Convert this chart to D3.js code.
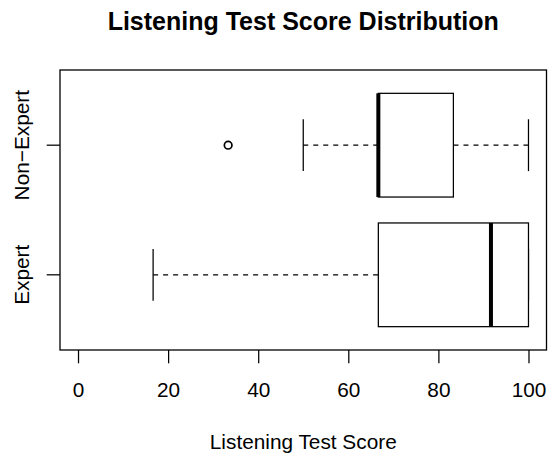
<!DOCTYPE html>
<html>
<head>
<meta charset="utf-8">
<script src="https://cdn.jsdelivr.net/npm/d3@7"></script>
<style>
  html, body { margin: 0; padding: 0; background: #fff; }
  svg { display: block; }
  text { font-family: "Liberation Sans", Arial, Helvetica, sans-serif; fill: #000; }
</style>
</head>
<body>
<svg id="chart" width="549" height="455"></svg>
<script>
// ---- data ----
const groups = ["Expert", "Non\u2212Expert"];
const whiskerLow = [16.67, 50];
const q1 = [66.67, 66.67];
const median = [91.67, 66.67];
const q3 = [100, 83.33];
const whiskerHigh = [100, 100];
const outliers = [[], [33.33]];
const xTicks = [0, 20, 40, 60, 80, 100];
const title = "Listening Test Score Distribution";
const xLabel = "Listening Test Score";

// ---- layout ----
const svg = d3.select("#chart");
const plotL = 60, plotR = 546.5, plotT = 70, plotB = 350;
const fs = 20.8;

const x = d3.scaleLinear().domain([-4, 104]).range([plotL, plotR]);
const y = d3.scaleLinear().domain([0.42, 2.58]).range([plotB, plotT]);
const boxHalf = 0.4, stapleHalf = 0.2;
const lw = 1.25;

// frame
svg.append("rect")
  .attr("x", plotL).attr("y", plotT)
  .attr("width", plotR - plotL).attr("height", plotB - plotT)
  .attr("fill", "none").attr("stroke", "#000").attr("stroke-width", 1.3);

// x axis
const xAxis = d3.axisBottom(x).tickValues(xTicks).tickSize(13.3).tickFormat(d3.format("d"));
const gx = svg.append("g").attr("transform", `translate(0,${plotB})`).call(xAxis);
gx.select(".domain").attr("stroke", "none");
gx.selectAll(".tick line").attr("stroke", "#000").attr("stroke-width", lw);
gx.selectAll(".tick text")
  .attr("font-size", fs).attr("font-family", "Liberation Sans, Arial, sans-serif")
  .attr("fill", "#000").attr("dy", null).attr("y", 47);

// y axis
const gy = svg.append("g").attr("transform", `translate(${plotL},0)`);
gy.selectAll("line.tick").data(groups).join("line")
  .attr("class", "tick")
  .attr("x1", -13.3).attr("x2", 0)
  .attr("y1", (d, i) => y(i + 1)).attr("y2", (d, i) => y(i + 1))
  .attr("stroke", "#000").attr("stroke-width", lw);
svg.selectAll("text.ylab").data(groups).join("text")
  .attr("class", "ylab")
  .attr("transform", (d, i) => `translate(28.5,${y(i + 1)}) rotate(-90)`)
  .attr("text-anchor", "middle")
  .attr("font-size", fs)
  .text(d => d);

// boxes
const g = svg.append("g");
groups.forEach((name, i) => {
  const c = y(i + 1);
  const yT = y(i + 1 + boxHalf), yB = y(i + 1 - boxHalf);
  const sT = y(i + 1 + stapleHalf), sB = y(i + 1 - stapleHalf);
  [[whiskerLow[i], q1[i]], [whiskerHigh[i], q3[i]]].forEach(([a, b]) => {
    if (a !== b) {
      g.append("line")
        .attr("x1", x(a)).attr("x2", x(b)).attr("y1", c).attr("y2", c)
        .attr("stroke", "#000").attr("stroke-width", lw)
        .attr("stroke-dasharray", "5,5");
    }
  });
  [whiskerLow[i], whiskerHigh[i]].forEach(v => {
    g.append("line")
      .attr("x1", x(v)).attr("x2", x(v)).attr("y1", sT).attr("y2", sB)
      .attr("stroke", "#000").attr("stroke-width", lw);
  });
  g.append("rect")
    .attr("x", x(q1[i])).attr("y", yT)
    .attr("width", x(q3[i]) - x(q1[i])).attr("height", yB - yT)
    .attr("fill", "#fff").attr("stroke", "#000").attr("stroke-width", lw);
  g.append("line")
    .attr("x1", x(median[i])).attr("x2", x(median[i])).attr("y1", yT).attr("y2", yB)
    .attr("stroke", "#000").attr("stroke-width", 4);
  outliers[i].forEach(v => {
    g.append("circle")
      .attr("cx", x(v)).attr("cy", c).attr("r", 3.8)
      .attr("fill", "none").attr("stroke", "#000").attr("stroke-width", 1.7);
  });
});

// title & axis label
svg.append("text")
  .attr("x", (plotL + plotR) / 2).attr("y", 30)
  .attr("text-anchor", "middle").attr("font-size", 25).attr("font-weight", "bold")
  .text(title);
svg.append("text")
  .attr("x", (plotL + plotR) / 2).attr("y", 449)
  .attr("text-anchor", "middle").attr("font-size", fs)
  .text(xLabel);
</script>
</body>
</html>
